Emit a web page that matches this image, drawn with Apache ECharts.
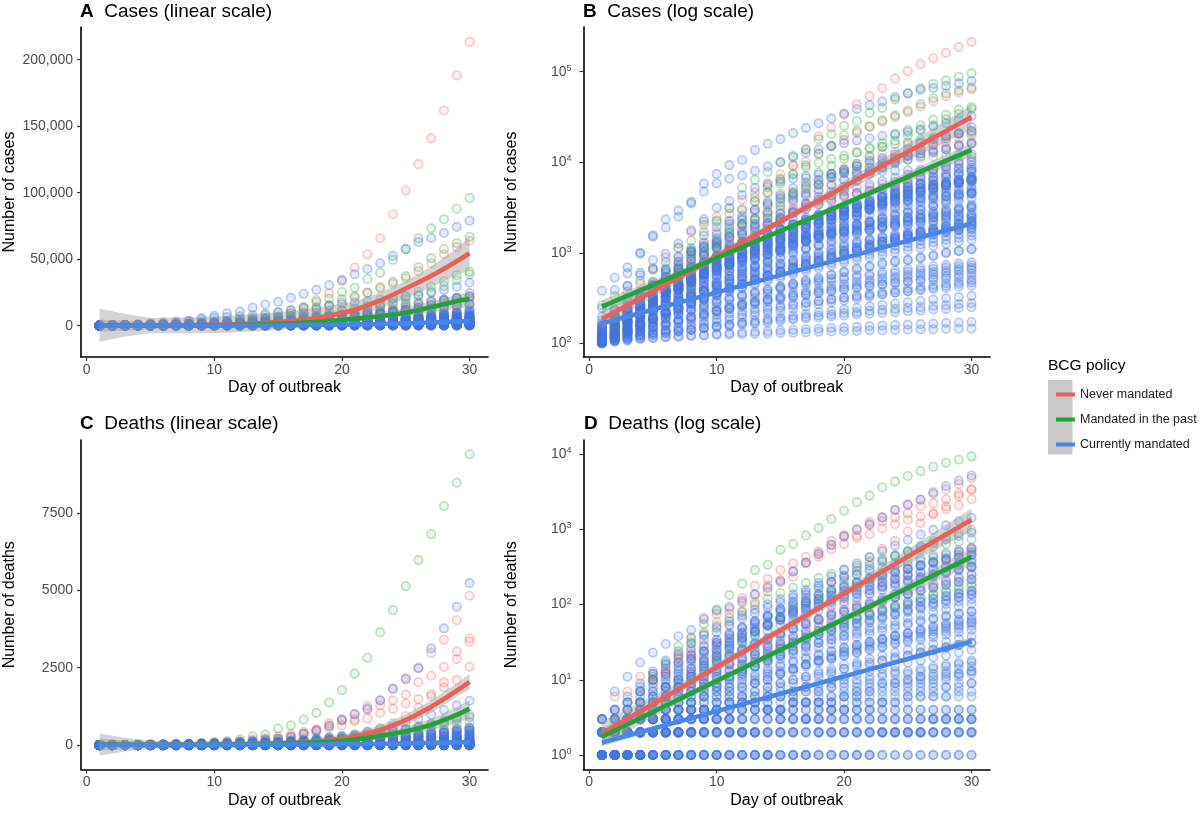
<!DOCTYPE html>
<html><head><meta charset="utf-8">
<script src="https://cdn.jsdelivr.net/npm/echarts@6/dist/echarts.min.js"></script>
<style>html,body{margin:0;padding:0;background:#fff}#c{width:1200px;height:813px}</style>
</head><body><div id="c"></div>
<script>
const FF = '"Liberation Sans", Arial, Helvetica, sans-serif';
const days = [1,2,3,4,5,6,7,8,9,10,11,12,13,14,15,16,17,18,19,20,21,22,23,24,25,26,27,28,29,30];
const xTicks = [0,10,20,30];
const casesLinTicks = [0,50000,100000,150000,200000];
const casesLogTicks = [100,1000,10000,100000];
const deathsLinTicks = [0,2500,5000,7500];
const deathsLogTicks = [1,10,100,1000,10000];
const groupNames = ['Never mandated','Mandated in the past','Currently mandated'];

// ---- cumulative cases per country, day 1..30 ----
const casesNever = [
 [124,158,221,319,435,541,704,994,1301,1697,2247,2943,3680,4663,6411,9259,13789,19383,24207,33546,43800,53700,65800,83800,101700,121500,140900,161800,188200,213400],
 [155,229,322,453,655,888,1128,1694,2036,2502,3089,3858,4636,5883,7375,9172,10149,12462,15113,17660,21157,24747,27980,31506,35713,41035,47021,53578,59138,63927],
 [128,188,265,321,382,503,603,804,959,1135,1413,1705,2051,2460,2994,3631,4204,4749,5560,6412,7431,8603,9762,10866,11750,12595,13614,14697,15723,16627],
 [109,169,200,239,267,314,314,559,689,886,1058,1243,1486,1795,2257,2815,3401,3743,4269,4937,6235,7284,9134,10836,12775,13964,15348,16770,18431,19691],
 [103,117,176,244,304,424,594,800,943,1277,1469,2088,2790,3251,4042,4682,5576,6280,7398,8527,9560,11284,12437,12978,15756,16563,17872,19141,20654,22059],
 [109,129,169,223,292,366,557,683,785,906,1125,1329,1564,2121,2415,2910,3235,3447,3849,4273,4604,5364,5709,6074,6574,7054,8089,8928,9655,10647],
 [112,156,197,250,297,377,452,568,681,791,1071,1314,1682,2044,2364,2810,3143,3640,3984,4361,4559,4862,5116,5330,5550,5687,5797,5895,6010,6108]
];
const casesPast = [
 [120,165,222,259,400,500,673,1073,1695,2277,3146,5232,6391,7798,9942,11748,13910,17963,20410,25374,28603,35136,39885,49515,57786,65719,73235,80110,87956,95923],
 [130,159,196,262,482,670,799,1040,1176,1457,1908,2078,3675,4585,5795,7272,9257,12327,15320,19848,22213,24873,29056,32986,37323,43938,50871,57695,62095,66885],
 [100,130,191,204,288,380,656,959,1136,1219,1794,2293,2293,3681,4496,4532,6683,7715,9124,10970,12758,14463,16243,20123,22622,25600,29551,33402,38105,40708],
 [116,164,207,274,322,384,459,459,802,1144,1145,1551,1960,2642,2716,4014,5067,5745,6726,8164,9640,11812,14745,17312,19780,22453,25481,29865,34173,38689],
 [264,332,374,491,652,652,1139,1359,2200,2200,2700,3028,4075,5294,6575,7474,8795,9877,10897,11811,12928,14076,14829,15922,16605,17768,18827,19606,20505,21100],
 [104,131,182,246,302,504,655,860,1018,1332,1646,2013,2388,2814,3582,4474,5283,5588,6909,7657,8271,8788,9618,10180,10711,11129,11524,11781,12051,12297],
 [113,169,192,277,400,489,598,702,996,1090,1221,1333,1463,1550,1746,1914,2118,2385,2621,2863,3069,3294,3620,3921,4248,4623,5060,5567,6012,6418]
];
const casesCurrent = [
 [380,530,690,1000,1560,1900,2500,3650,5800,7400,9300,10600,13600,16000,18000,21000,24000,27000,30500,34500,38700,42700,47000,52500,57500,63000,66000,69700,74300,79000],
 [245,388,593,978,1501,2336,2922,3513,4747,5823,6566,7161,8042,9000,10075,11364,12729,13938,14991,16169,17361,18407,19644,20610,21638,23049,24811,27017,29406,32332],
 [104,204,433,602,833,977,1261,1766,2337,3150,3736,4335,5186,5621,6088,6593,7041,7314,7478,7513,7755,7869,7979,8086,8162,8236,8320,8413,8565,8652],
 [112,169,245,331,448,642,785,1020,1280,1600,2060,2362,2995,3544,4268,5170,5962,6408,7443,8251,9034,9886,10524,11278,11730,12442,13141,13956,15472,15987],
 [121,200,234,291,428,621,904,1128,1546,1924,2247,2554,2985,3417,3904,4256,4579,5717,6836,7910,9056,10360,11130,12161,14034,16170,18092,19638,20727,22192],
 [114,147,199,253,306,367,438,495,658,840,1036,1264,1534,1836,2337,2777,3548,4149,4731,5389,6343,7497,8672,10131,11917,13584,15770,18328,21102,24490],
 [105,132,144,157,164,186,210,230,239,254,268,284,317,349,408,455,488,514,568,620,675,716,780,814,829,873,914,1007,1046,1089],
 [107,114,137,151,173,223,283,360,434,519,606,694,724,873,1019,1138,1356,1635,1998,2543,2567,3082,3588,4778,5311,5916,6725,7598,8446,9205],
 [104,125,177,238,287,355,425,536,634,749,901,1051,1221,1389,1638,1862,2055,2311,2554,2946,3383,3627,4102,4413,4848,5205,5575,5955,6356,6674],
 [111,140,142,187,202,217,230,307,380,462,552,636,707,803,1075,1418,1546,2084,2311,2633,2633,3018,3094,3246,3660,3764,4076,4195,4428,4648],
 [118,164,203,251,316,367,405,475,585,717,848,993,1094,1215,1378,1510,1688,1890,2143,2439,2785,3181,3441,3844,4219,4661,5014,5399,5847,6297],
 [197,238,428,566,673,790,900,1030,1183,1306,1518,1624,1796,2031,2161,2320,2470,2626,2766,2908,3116,3333,3483,3662,3793,3963,4119,4228,4346,4530],
 [114,147,177,212,272,322,411,599,721,827,934,1045,1136,1245,1388,1524,1651,1771,1875,1978,2067,2169,2220,2258,2369,2423,2473,2518,2551,2579],
 [117,134,172,227,309,369,450,514,579,686,790,893,1046,1155,1285,1414,1528,1677,1790,1986,2092,2273,2491,2738,2956,3293,3512,3842,4241,4557],
 [103,118,133,171,238,274,344,392,511,562,767,900,1012,1104,1203,1299,1453,1563,1720,1885,2039,2179,2402,2605,2795,2932,3287,3651,4033,4462],
 [155,201,238,342,434,537,632,746,922,1142,1306,1610,1909,2139,2449,2738,3031,3404,3737,4161,4471,4815,5116,5546,5972,6501,6927,7213,7525,7917],
 [116,150,202,240,274,402,554,709,927,1170,1187,1280,1326,1353,1380,1462,1505,1585,1655,1686,1749,1845,1934,2003,2028,2173,2272,2415,2506,2605],
 [117,145,234,263,318,363,395,416,480,580,635,671,852,950,1065,1323,1414,1595,1746,2281,2561,2954,4342,5256,5897,6848,7519,9784,10303,11475],
 [110,126,150,196,256,285,294,327,366,402,456,495,536,576,609,656,710,779,865,985,1070,1173,1322,1450,1560,1699,1794,1939,2065,2190],
 [128,158,225,266,301,387,387,502,589,690,745,820,966,1054,1133,1265,1451,1554,1628,1715,1795,1894,1975,2142,2208,2277,2443,2571,2669,2758],
 [105,128,206,254,315,382,442,495,586,657,713,790,867,963,1011,1079,1126,1182,1222,1282,1343,1407,1495,1534,1600,1650,1704,1741,1791,1814],
 [101,110,118,124,129,135,138,140,146,150,155,162,165,170,176,182,188,193,198,202,208,212,216,220,226,230,236,240,246,250],
 [102,106,110,113,116,118,119,121,122,124,125,126,127,128,130,131,132,134,135,136,137,139,139,140,141,142,143,144,145,146],
 [104,112,121,131,140,155,172,185,203,224,243,266,290,309,330,361,380,403,431,450,476,497,521,538,566,588,613,634,660,681],
 [108,123,141,162,189,213,246,280,321,360,407,451,503,558,621,680,749,818,891,967,1052,1128,1217,1300,1391,1478,1576,1668,1770,1865],
 [126,152,191,230,281,343,421,509,613,728,862,1002,1161,1328,1512,1698,1893,2098,2312,2537,2771,3009,3258,3512,3768,4031,4297,4562,4828,5100],
 [140,191,254,331,426,538,681,849,1041,1258,1502,1758,2063,2379,2718,3082,3458,3871,4288,4741,5196,5689,6188,6720,7248,7802,8368,8951,9549,10160],
 [110,118,127,138,151,164,181,197,215,233,249,267,281,300,315,333,349,367,383,401,416,433,447,463,477,493,505,521,534,548],
 [150,181,221,269,319,383,449,531,609,702,788,886,974,1071,1163,1262,1349,1441,1528,1622,1708,1792,1879,1961,2038,2122,2197,2281,2349,2420],
 [180,231,289,371,468,592,738,921,1129,1382,1668,2003,2379,2801,3278,3802,4371,4988,5661,6379,7148,7962,8827,9731,10688,11692,12738,13826,14958,16140],
 [102,115,131,151,173,194,215,237,261,284,307,329,353,374,397,419,443,464,487,510,531,553,576,596,619,640,662,686,706,729],
 [103,109,113,120,125,129,136,141,148,153,159,167,171,178,185,189,196,203,208,216,221,229,234,240,247,251,259,264,271,277],
 [106,117,129,141,153,166,181,194,208,224,238,254,271,286,304,319,337,356,372,390,410,428,448,467,488,508,529,550,571,593],
 [113,127,146,165,186,211,239,270,300,334,369,407,445,488,531,578,624,675,724,779,832,889,946,1004,1066,1127,1190,1254,1322,1390],
 [119,133,152,171,189,210,232,253,276,299,322,345,369,393,418,441,466,490,515,539,563,587,612,637,661,686,710,735,759,784],
 [101,104,107,111,114,117,119,122,124,127,129,132,134,137,139,141,143,145,148,150,152,155,157,159,161,163,165,168,170,172],
 [131,150,173,199,228,261,298,339,384,434,488,547,610,678,751,828,911,999,1091,1189,1291,1399,1511,1628,1750,1877,2009,2146,2288,2434],
 [109,121,137,152,168,189,208,231,253,281,304,333,362,393,427,458,494,531,571,609,651,696,741,787,837,886,939,993,1048,1105],
 [124,146,168,197,228,262,300,338,384,430,479,533,589,648,712,778,850,922,1000,1080,1163,1251,1342,1436,1533,1634,1738,1845,1956,2070],
 [107,118,128,137,148,160,170,180,192,205,215,226,238,249,260,272,283,294,306,318,329,341,352,364,375,387,398,410,422,433],
 [100,112,131,158,190,226,268,317,375,440,512,590,678,773,870,975,1085,1205,1330,1460,1600,1745,1895,2050,2210,2375,2545,2720,2900,3085],
 [142,171,205,243,291,343,398,463,530,612,694,785,879,983,1089,1205,1322,1447,1574,1711,1846,1990,2133,2284,2431,2589,2741,2902,3058,3222],
 [116,139,172,210,259,316,386,467,561,668,789,925,1076,1243,1425,1624,1838,2069,2316,2579,2858,3153,3463,3789,4130,4485,4855,5240,5638,6050],
 [103,131,165,209,262,325,400,486,586,698,823,963,1115,1283,1461,1655,1860,2078,2306,2546,2794,3052,3319,3594,3877,4166,4462,4764,5070,5382],
 [125,147,170,197,226,259,293,330,372,416,462,512,566,624,683,747,815,886,960,1040,1122,1208,1299,1393,1491,1593,1698,1808,1921,2038],
 [138,177,224,281,349,430,524,632,754,892,1045,1213,1398,1598,1815,2047,2296,2560,2839,3134,3443,3767,4105,4456,4820,5197,5586,5986,6398,6820],
 [101,119,138,160,183,210,238,270,303,340,378,420,463,510,557,609,661,717,774,835,896,960,1026,1094,1164,1236,1310,1386,1464,1543],
 [156,198,249,310,380,462,556,662,781,913,1059,1219,1393,1581,1784,2000,2231,2476,2734,3006,3291,3588,3898,4220,4553,4898,5254,5620,5997,6382],
 [112,127,145,166,190,216,246,279,316,357,402,452,507,566,630,699,774,854,939,1029,1125,1227,1334,1447,1566,1690,1819,1954,2095,2241],
 [121,156,198,251,316,393,483,590,712,850,1008,1182,1377,1592,1827,2083,2362,2660,2981,3325,3690,4076,4485,4914,5364,5835,6325,6836,7366,7915],
 [105,117,128,141,154,168,183,199,214,231,248,266,284,302,321,340,360,380,401,422,443,465,487,509,532,555,578,601,625,648],
 [133,163,201,246,299,364,441,530,633,750,884,1033,1198,1380,1579,1795,2028,2278,2545,2829,3129,3446,3779,4127,4491,4870,5263,5671,6092,6527],
 [109,126,147,169,195,224,255,289,326,366,408,454,502,553,606,662,721,782,846,912,981,1052,1125,1200,1277,1356,1437,1520,1605,1691],
 [118,141,170,204,243,290,343,403,471,548,633,727,829,941,1062,1192,1331,1480,1638,1806,1983,2170,2366,2571,2786,3010,3243,3485,3736,3996],
 [102,108,115,123,132,141,151,161,172,184,196,208,221,234,248,262,276,291,306,322,338,354,371,388,406,424,442,461,480,499],
 [146,182,226,279,341,413,496,590,697,817,950,1097,1258,1434,1625,1830,2052,2289,2542,2810,3095,3395,3712,4045,4394,4759,5140,5537,5950,6378],
 [108,131,160,196,240,293,356,431,520,624,745,884,1043,1224,1429,1660,1917,2203,2519,2867,3247,3661,4110,4594,5114,5670,6262,6891,7556,8258],
 [127,153,181,212,246,283,323,366,413,463,517,574,635,699,767,838,913,991,1073,1159,1248,1341,1437,1537,1640,1747,1857,1971,2088,2208],
 [100,106,111,117,122,129,135,142,149,156,163,171,178,186,194,203,211,220,228,237,246,256,265,275,284,294,304,314,324,334],
 [165,207,257,318,389,472,567,675,797,933,1084,1250,1431,1628,1840,2068,2313,2574,2850,3143,3452,3777,4117,4474,4846,5233,5636,6054,6486,6933],
 [113,132,157,186,220,260,306,357,415,479,550,628,713,805,904,1010,1123,1243,1370,1504,1645,1793,1948,2109,2277,2451,2632,2819,3012,3211],
 [119,146,180,220,267,323,387,461,544,638,742,857,982,1119,1266,1425,1594,1775,1966,2169,2382,2606,2841,3087,3343,3609,3886,4173,4470,4777],
 [104,122,142,164,189,217,248,282,319,360,404,452,503,558,617,680,747,817,891,969,1051,1137,1226,1319,1416,1516,1620,1728,1839,1954],
 [152,186,225,269,318,373,434,500,572,650,734,823,919,1020,1127,1240,1359,1483,1613,1748,1889,2035,2187,2344,2506,2673,2845,3022,3204,3391],
 [110,114,119,125,131,138,146,154,163,172,182,193,204,216,228,241,254,268,282,297,312,328,344,361,378,396,414,433,452,471]
];

// ---- cumulative deaths per country, day 1..30 ----
const deathsNever = [
 [1,2,3,7,10,12,17,21,29,34,52,79,107,148,197,233,366,463,631,827,827,1266,1441,1809,2158,2503,2978,3405,4032,4825],
 [1,6,7,11,12,14,17,21,22,28,36,40,47,54,63,85,108,118,200,244,307,427,552,706,942,1209,1581,2026,2780,3450],
 [1,3,4,5,10,12,20,24,43,58,76,106,136,179,213,276,356,434,546,639,771,864,1039,1173,1339,1487,1651,1867,2101,2530],
 [3,4,4,5,10,14,21,37,67,75,88,122,178,220,289,353,431,513,705,828,1011,1143,1283,1447,1632,2035,2240,2523,3019,3346],
 [1,1,1,4,5,8,9,12,12,19,21,25,26,30,38,54,61,64,80,101,109,139,179,218,259,339,375,407,503,557],
 [1,1,2,2,3,4,5,7,9,12,14,16,22,28,30,38,46,56,64,72,80,94,106,125,140,158,178,200,224,250]
];
const deathsPast = [
 [1,2,3,5,10,17,28,35,55,86,134,190,288,340,537,640,830,1043,1380,1775,2310,2820,3640,4360,5135,5975,6815,7720,8470,9390],
 [1,1,2,3,4,6,8,10,13,18,24,31,40,52,67,86,108,135,160,205,248,300,370,440,520,610,700,800,890,980],
 [2,2,3,3,5,6,8,11,15,20,26,34,43,54,68,83,100,120,145,170,195,230,265,300,340,380,420,460,500,545],
 [1,1,1,2,2,3,4,5,7,9,11,14,17,21,26,31,37,44,52,60,68,77,88,98,110,121,134,147,160,175],
 [1,2,2,3,3,4,4,5,6,8,10,12,15,19,24,28,33,40,47,55,64,73,83,95,108,122,138,155,172,190],
 [1,2,4,7,11,16,22,30,40,52,66,82,100,120,143,168,195,225,258,292,330,370,412,456,500,546,592,640,690,740]
];
const deathsCurrent = [
 [2,7,11,17,23,30,38,46,64,83,94,112,137,167,205,277,360,480,620,800,990,1180,1450,1830,2130,2480,3120,3770,4470,5230],
 [2,4,5,8,12,16,19,26,34,43,54,66,77,92,107,124,145,194,237,291,354,429,514,611,724,853,988,1135,1284,1433],
 [1,2,3,4,5,8,10,14,18,25,32,42,55,70,88,110,135,165,200,238,280,330,385,445,510,580,655,735,820,905],
 [1,1,2,3,4,6,8,11,16,21,28,36,44,55,67,80,95,112,130,152,176,202,230,261,295,332,370,412,456,500],
 [1,2,3,5,7,10,13,18,24,31,40,50,61,74,88,104,121,139,158,179,201,224,249,275,302,330,360,391,423,456],
 [1,1,1,1,2,2,3,3,4,5,6,7,9,10,12,14,16,18,21,24,27,30,34,38,42,47,52,57,63,69],
 [1,1,1,1,1,1,1,2,2,2,2,2,2,3,3,3,3,3,4,4,4,4,5,5,5,6,6,6,7,7],
 [1,1,1,1,1,1,1,1,1,1,1,1,1,1,1,1,1,1,1,1,1,1,1,1,1,1,1,1,1,1],
 [1,1,1,1,1,1,1,1,1,1,2,2,2,2,2,2,2,2,2,2,2,2,2,2,2,2,2,2,2,2],
 [2,2,2,2,2,2,2,3,3,3,3,3,3,3,3,3,3,3,3,3,3,3,3,3,3,3,3,3,3,3],
 [1,1,1,2,2,2,2,2,3,3,3,4,4,4,4,5,5,5,5,6,6,6,6,7,7,8,8,8,9,9],
 [1,1,2,2,3,3,4,4,5,6,7,8,9,10,12,13,15,17,19,21,23,26,28,31,34,37,40,44,48,52],
 [3,3,4,5,6,8,10,12,15,18,22,26,31,36,42,49,57,65,75,85,97,109,123,138,154,171,190,210,232,255],
 [1,2,2,3,4,5,7,8,10,13,16,19,22,26,30,35,40,45,51,58,65,72,80,89,98,108,118,129,141,153],
 [1,1,2,2,2,3,3,4,4,5,5,6,7,8,9,10,11,13,14,16,17,19,21,23,25,27,30,32,35,38],
 [1,1,1,1,2,2,2,2,2,3,3,3,3,4,4,4,5,5,5,6,6,7,7,8,8,9,9,10,11,12],
 [2,3,4,6,8,11,14,19,24,31,39,48,58,70,83,98,113,131,150,171,193,217,242,269,297,327,358,391,425,461],
 [1,1,1,1,1,2,2,2,2,2,2,2,2,2,3,3,3,3,3,3,3,3,3,3,3,3,3,3,3,3],
 [1,1,1,1,1,1,1,1,1,1,1,1,1,1,1,1,1,2,2,2,2,2,2,2,2,2,2,2,2,2],
 [1,2,3,4,6,8,10,13,17,21,26,32,38,45,54,63,73,84,96,110,124,140,157,175,195,216,238,262,287,313],
 [2,2,2,3,3,3,4,4,4,4,5,5,5,6,6,6,7,7,8,8,8,9,9,10,10,11,11,12,12,13],
 [1,1,1,1,2,2,2,2,3,3,3,3,4,4,4,5,5,6,6,7,7,8,9,9,10,11,12,13,14,15],
 [3,3,3,3,3,4,4,4,4,4,4,5,5,5,5,5,5,5,5,5,5,5,5,5,6,6,6,6,6,6],
 [1,1,2,3,4,5,7,9,11,14,17,20,24,28,33,38,44,50,56,63,70,77,85,94,102,111,121,131,141,152],
 [1,1,1,2,2,2,3,3,3,4,4,5,5,6,6,7,8,9,10,11,12,13,14,15,17,18,20,21,23,25],
 [2,4,6,9,13,18,24,31,39,49,60,72,86,101,118,136,156,178,201,226,253,281,311,343,376,411,448,487,528,570],
 [1,1,1,1,1,2,2,2,3,3,3,4,4,4,4,4,4,4,4,4,4,4,4,4,4,4,4,4,4,4],
 [1,1,1,1,1,1,1,1,1,1,1,1,1,1,2,2,2,2,2,2,2,2,2,2,2,2,3,3,3,3],
 [2,2,2,2,2,2,2,2,2,2,2,2,2,2,2,2,2,2,2,2,2,2,2,2,2,2,2,2,2,2],
 [1,1,1,1,1,1,1,1,1,1,1,1,1,1,1,1,1,1,1,1,1,1,1,1,1,1,1,1,1,1],
 [3,3,3,3,3,3,3,3,3,4,4,4,4,4,4,4,4,4,4,4,4,4,4,4,4,4,4,4,4,4],
 [1,2,2,3,4,5,6,8,9,11,13,15,17,20,22,25,28,31,34,38,41,45,49,53,57,62,66,71,76,81],
 [2,3,5,7,10,13,17,22,28,34,42,50,59,69,80,92,105,119,134,150,167,185,204,224,245,267,290,314,339,365],
 [1,1,2,2,3,4,5,6,7,8,9,11,12,14,16,18,20,22,24,27,29,32,35,38,41,44,47,51,55,59],
 [1,1,1,2,2,3,3,4,5,6,7,8,9,11,12,14,16,18,20,23,25,28,31,34,37,41,44,48,52,57],
 [1,1,2,2,3,4,5,6,8,9,11,13,15,18,21,24,27,31,35,39,44,49,54,60,66,72,79,86,94,102],
 [1,2,3,4,5,7,9,11,14,17,21,25,30,35,41,48,55,63,72,81,91,102,114,126,139,153,168,184,200,217],
 [2,2,3,3,4,5,6,7,8,10,11,13,15,17,19,22,24,27,30,34,37,41,45,49,54,59,64,69,75,81],
 [1,1,1,2,2,2,3,3,4,4,5,6,6,7,8,9,10,11,12,14,15,16,18,19,21,23,25,27,29,31],
 [1,2,2,3,5,6,8,10,13,16,20,24,29,34,40,47,54,62,71,80,90,101,113,125,138,152,167,183,199,216],
 [3,4,5,7,9,12,15,19,24,29,35,42,50,58,68,78,89,101,114,128,143,159,176,194,213,233,254,276,299,323],
 [1,1,1,1,2,2,2,3,3,3,4,4,5,5,6,6,7,7,8,9,9,10,11,12,12,13,14,15,16,17],
 [1,1,2,2,3,3,4,5,6,7,8,10,11,13,15,17,19,21,24,26,29,32,35,39,42,46,50,54,59,63],
 [2,3,3,4,5,6,8,9,11,13,16,18,21,24,28,32,36,40,45,50,55,61,67,73,80,87,94,102,110,118],
 [1,1,2,3,3,4,6,7,9,11,13,16,19,22,26,30,35,40,45,51,57,64,71,79,87,96,105,115,125,136],
 [1,1,1,1,1,1,2,2,2,2,3,3,3,4,4,5,5,5,6,6,7,7,8,9,9,10,10,11,12,13],
 [2,2,3,4,6,8,11,14,18,23,29,36,44,53,63,75,88,102,118,135,154,174,196,220,245,272,301,331,363,397],
 [1,1,2,2,2,3,3,4,4,5,6,6,7,8,9,10,11,12,13,14,16,17,18,20,21,23,25,27,29,31],
 [1,2,2,3,3,4,5,5,6,7,8,9,10,12,13,14,16,18,19,21,23,25,27,30,32,34,37,40,43,46],
 [1,1,1,2,2,3,4,5,6,8,10,12,15,18,21,25,29,34,39,45,51,58,66,74,83,92,102,113,125,137],
 [2,2,2,2,3,3,3,4,4,4,5,5,6,6,7,7,8,8,9,10,10,11,12,13,13,14,15,16,17,18],
 [1,1,1,1,1,1,1,1,2,2,2,2,2,3,3,3,3,4,4,4,5,5,5,6,6,7,7,8,8,9],
 [1,2,3,5,7,9,12,16,20,25,31,37,45,53,62,72,83,95,108,122,137,153,170,188,207,227,248,270,293,317],
 [1,1,1,1,1,1,1,1,1,1,1,1,1,1,1,1,1,1,1,1,1,1,2,2,2,2,2,2,2,2],
 [2,2,2,2,2,2,2,2,2,2,2,2,2,2,2,2,3,3,3,3,3,3,3,3,3,3,3,3,3,3]
];

// ---- fitted curves ----
const fitDaysLin = [1,3,5,7,9,11,13,15,17,19,21,23,25,27,29,30];
const casesLinFitNever   = [200,150,150,250,500,900,1600,2700,4500,7500,12000,19000,28000,37500,48500,54500];
const casesLinLoNever    = [-12000,-8000,-5700,-5600,-5600,-5200,-4400,-3200,-1000,2000,6500,12500,20500,29000,38000,42000];
const casesLinHiNever    = [13000,9000,5800,6200,6600,7300,8600,10200,12200,15000,18500,25000,33500,44500,58000,67000];
const casesLinFitPast    = [100,80,80,150,300,550,900,1500,2400,3600,5200,7200,9700,14000,18500,20000];
const casesLinLoPast     = [-4500,-3500,-2500,-2000,-1600,-1200,-800,-200,600,1600,3000,5000,7300,10000,13000,13500];
const casesLinHiPast     = [4700,3700,2700,2300,2200,2300,2600,3200,4200,5600,7500,10000,13500,18000,23000,25000];
const casesLinFitCurrent = [50,50,60,80,120,180,260,380,540,750,1000,1350,1800,2400,3100,3500];
const casesLinLoCurrent  = [-700,-500,-400,-300,-250,-200,-100,0,150,350,550,850,1250,1800,2400,2700];
const casesLinHiCurrent  = [800,600,500,450,450,500,600,750,950,1150,1450,1850,2350,3000,3800,4300];

const deathsLinFitNever   = [30,20,10,10,15,20,30,50,85,155,285,490,810,1240,1760,2040];
const deathsLinLoNever    = [-330,-200,-120,-90,-80,-80,-70,-50,-20,40,150,340,640,1040,1560,1800];
const deathsLinHiNever    = [380,240,150,120,120,130,140,160,200,280,420,640,990,1450,2000,2300];
const deathsLinFitPast    = [20,15,10,10,15,20,35,55,80,110,185,300,450,660,980,1180];
const deathsLinLoPast     = [-180,-120,-80,-60,-50,-40,-20,0,20,50,100,180,300,470,720,860];
const deathsLinHiPast     = [220,150,100,80,80,80,90,110,140,170,270,420,600,850,1230,1450];
const deathsLinFitCurrent = [5,5,5,6,8,10,12,15,20,26,35,45,58,74,92,100];
const deathsLinLoCurrent  = [-30,-25,-20,-15,-12,-10,-8,-5,0,5,12,20,30,42,55,60];
const deathsLinHiCurrent  = [40,35,30,27,28,30,32,35,40,47,58,70,86,106,129,140];

const fitDaysLog = [1,30];
const bandDaysLog = [1,8,15,22,30];
const casesLogFitNever   = [185,31600];
const casesLogLoNever    = [150,570,2040,6500,23000];
const casesLogHiNever    = [228,720,2400,9000,43000];
const casesLogFitPast    = [254,13700];
const casesLogLoPast     = [215,610,1650,4200,11500];
const casesLogHiPast     = [300,725,1840,5000,16300];
const casesLogFitCurrent = [166,2100];
const casesLogLoCurrent  = [153,293,548,1000,1930];
const casesLogHiCurrent  = [180,320,583,1085,2290];

const deathsLogFitNever   = [1.93,1343];
const deathsLogLoNever    = [1.33,8.2,40.5,190,950];
const deathsLogHiNever    = [2.8,10.8,51,258,1900];
const deathsLogFitPast    = [1.75,431];
const deathsLogLoPast     = [1.33,6.0,23,84,330];
const deathsLogHiPast     = [2.3,7.3,27.3,105,565];
const deathsLogFitCurrent = [1.46,32.4];
const deathsLogLoCurrent  = [1.3,2.95,6.3,13.2,28.5];
const deathsLogHiCurrent  = [1.64,3.22,6.7,14.5,36.8];

// ---- styling ----
const lineColors = ['#e8605a', '#22a33a', '#4a86e8'];
const ptStroke = ['rgba(236,100,100,0.42)', 'rgba(60,170,75,0.42)', 'rgba(70,118,224,0.45)'];
const ptFill   = ['rgba(236,100,100,0.12)', 'rgba(60,170,75,0.12)', 'rgba(70,118,224,0.18)'];
const bandFill = 'rgba(153,153,153,0.42)';

const panels = [
  {grid:{left:81, top:27, width:407, height:330}, log:false, min:-23500, max:224600, ticks:casesLinTicks,
   yname:'Number of cases', title:'Cases (linear scale)', letter:'A', titleTop:1.5, titleLeft:80,
   trajs:[casesNever,casesPast,casesCurrent],
   fits:[[fitDaysLin,casesLinFitNever,fitDaysLin,casesLinLoNever,casesLinHiNever],
         [fitDaysLin,casesLinFitPast,fitDaysLin,casesLinLoPast,casesLinHiPast],
         [fitDaysLin,casesLinFitCurrent,fitDaysLin,casesLinLoCurrent,casesLinHiCurrent]]},
  {grid:{left:583.5, top:27, width:406.5, height:330}, log:true, min:70.6, max:311900, ticks:casesLogTicks,
   yname:'Number of cases', title:'Cases (log scale)', letter:'B', titleTop:1.5, titleLeft:583,
   trajs:[casesNever,casesPast,casesCurrent],
   fits:[[fitDaysLog,casesLogFitNever,bandDaysLog,casesLogLoNever,casesLogHiNever],
         [fitDaysLog,casesLogFitPast,bandDaysLog,casesLogLoPast,casesLogHiPast],
         [fitDaysLog,casesLogFitCurrent,bandDaysLog,casesLogLoCurrent,casesLogHiCurrent]]},
  {grid:{left:81, top:440, width:407, height:329.5}, log:false, min:-785, max:9851, ticks:deathsLinTicks,
   yname:'Number of deaths', title:'Deaths (linear scale)', letter:'C', titleTop:413.5, titleLeft:80,
   trajs:[deathsNever,deathsPast,deathsCurrent],
   fits:[[fitDaysLin,deathsLinFitNever,fitDaysLin,deathsLinLoNever,deathsLinHiNever],
         [fitDaysLin,deathsLinFitPast,fitDaysLin,deathsLinLoPast,deathsLinHiPast],
         [fitDaysLin,deathsLinFitCurrent,fitDaysLin,deathsLinLoCurrent,deathsLinHiCurrent]]},
  {grid:{left:583.5, top:440, width:406.5, height:329.5}, log:true, min:0.641, max:15490, ticks:deathsLogTicks,
   yname:'Number of deaths', title:'Deaths (log scale)', letter:'D', titleTop:413.5, titleLeft:584,
   trajs:[deathsNever,deathsPast,deathsCurrent],
   fits:[[fitDaysLog,deathsLogFitNever,bandDaysLog,deathsLogLoNever,deathsLogHiNever],
         [fitDaysLog,deathsLogFitPast,bandDaysLog,deathsLogLoPast,deathsLogHiPast],
         [fitDaysLog,deathsLogFitCurrent,bandDaysLog,deathsLogLoCurrent,deathsLogHiCurrent]]}
];

function toPoints(trajs) {
  const out = [];
  trajs.forEach(t => t.forEach((v, i) => out.push([days[i], v])));
  return out;
}
function pairs(xs, ys) { return xs.map((x, i) => [x, ys[i]]); }

const grids = [], xAxes = [], yAxes = [], series = [], titles = [];
panels.forEach((p, k) => {
  grids.push(Object.assign({outerBoundsMode:'none', containLabel:false}, p.grid));
  xAxes.push({
    gridIndex:k, type:'value', min:-0.45, max:31.45,
    name:'Day of outbreak', nameLocation:'middle', nameGap:23,
    nameTextStyle:{fontSize:16, color:'#000', fontFamily:FF},
    axisLine:{show:true, onZero:false, lineStyle:{color:'#000', width:1.6}},
    axisTick:{show:true, length:4, customValues:xTicks, lineStyle:{color:'#333', width:1.2}},
    axisLabel:{customValues:xTicks, margin:6, fontSize:14, color:'#4d4d4d', fontFamily:FF},
    splitLine:{show:false}
  });
  const yl = {
    customValues:p.ticks, fontSize:14, color:'#4d4d4d', fontFamily:FF,
    margin: p.log ? 12 : 8
  };
  if (p.log) {
    yl.formatter = v => '{b|10}{s|' + Math.round(Math.log10(v)) + '}';
    yl.rich = {b:{fontSize:14, lineHeight:16, color:'#4d4d4d', fontFamily:FF},
               s:{fontSize:9, lineHeight:10, verticalAlign:'top', color:'#4d4d4d', fontFamily:FF}};
  } else {
    yl.formatter = v => p.max > 100000 ? v.toLocaleString('en-US') : String(v);
  }
  yAxes.push({
    gridIndex:k, type: p.log ? 'log' : 'value', logBase:10, min:p.min, max:p.max,
    name:p.yname, nameLocation:'middle', nameGap:63.5,
    nameTextStyle:{fontSize:16, color:'#000', fontFamily:FF},
    axisLine:{show:true, onZero:false, lineStyle:{color:'#000', width:1.6}},
    axisTick:{show:true, length:4, customValues:p.ticks, lineStyle:{color:'#333', width:1.2}},
    axisLabel:yl,
    splitLine:{show:false}, minorTick:{show:false}
  });
  titles.push({
    text:'{b|' + p.letter + '}  ' + p.title, left:p.titleLeft, top:p.titleTop, padding:0,
    textStyle:{fontSize:19, lineHeight:20, fontWeight:'normal', color:'#000', fontFamily:FF,
      rich:{b:{fontSize:19, lineHeight:20, fontWeight:'bold', color:'#000', fontFamily:FF}}}
  });
  p.trajs.forEach((tr, g) => {
    series.push({
      type:'scatter', xAxisIndex:k, yAxisIndex:k, z:2, silent:true,
      symbol:'circle', symbolSize:8.5,
      itemStyle:{color:ptFill[g], borderColor:ptStroke[g], borderWidth:1.6},
      data:toPoints(tr)
    });
  });
  p.fits.forEach((f, g) => {
    const [fx, fy, bx, lo, hi] = f;
    series.push({
      type:'custom', xAxisIndex:k, yAxisIndex:k, z:3, silent:true,
      data:[[bx[0], hi[0]]],
      renderItem:(params, api) => {
        const pts = [];
        for (let i = 0; i < bx.length; i++) pts.push(api.coord([bx[i], hi[i]]));
        for (let i = bx.length - 1; i >= 0; i--) pts.push(api.coord([bx[i], lo[i]]));
        return {type:'polygon', shape:{points:pts, smooth:0}, style:{fill:bandFill}};
      }
    });
    series.push({
      type:'line', name:groupNames[g], xAxisIndex:k, yAxisIndex:k, z:4, silent:true,
      symbol:'none', smooth: p.log ? false : 0.35, color:lineColors[g],
      lineStyle:{color:lineColors[g], width:4.6},
      data:pairs(fx, fy)
    });
  });
});

titles.push({text:'BCG policy', left:1048, top:357, padding:0,
  textStyle:{fontSize:15.5, lineHeight:18, fontWeight:'normal', color:'#000', fontFamily:FF}});

const chart = echarts.init(document.getElementById('c'), null, {renderer:'canvas'});
chart.setOption({
  backgroundColor:'#fff',
  animation:false,
  title:titles,
  grid:grids, xAxis:xAxes, yAxis:yAxes, series:series,
  legend:{
    data:groupNames, orient:'vertical', left:1051, top:383, z:10,
    icon:'rect', itemWidth:19, itemHeight:4, itemGap:12, selectedMode:false,
    itemStyle:{borderWidth:0},
    textStyle:{fontSize:12.5, color:'#1a1a1a', fontFamily:FF}
  },
  graphic:[{type:'rect', left:1048, top:380, z:0, shape:{width:24.5, height:74.5}, style:{fill:'#c9c9c9'}}]
});
</script></body></html>
